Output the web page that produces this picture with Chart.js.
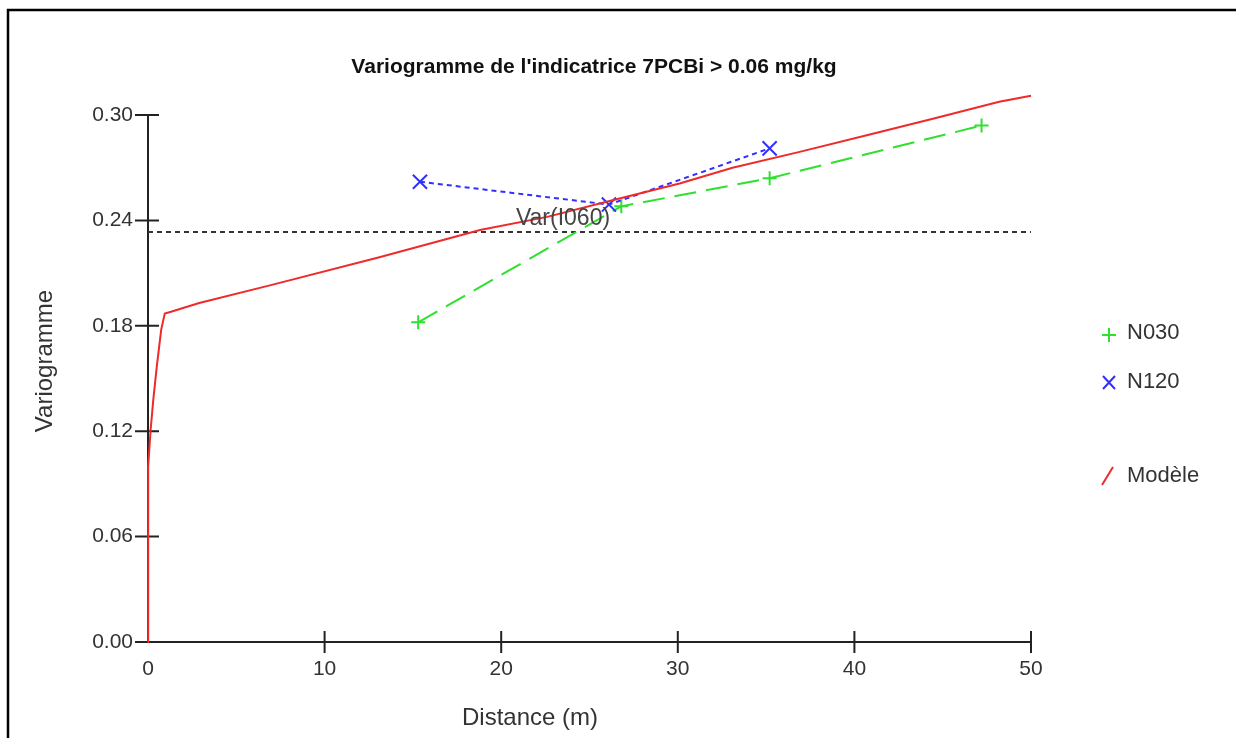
<!DOCTYPE html>
<html>
<head>
<meta charset="utf-8">
<script src="https://cdn.jsdelivr.net/npm/chart.js@4/dist/chart.umd.min.js"></script>
<style>
html,body{margin:0;padding:0;background:#fff;}
#wrap{width:1236px;height:738px;position:relative;}
</style>
</head>
<body>
<div id="wrap"><canvas id="c" width="1236" height="738"></canvas></div>
<script>
// ---- data ----
const chartTitle = "Variogramme de l'indicatrice 7PCBi > 0.06 mg/kg";
const xTitle = "Distance (m)";
const yTitle = "Variogramme";
const xTicks = [0, 10, 20, 30, 40, 50];
const yTicks = [0.00, 0.06, 0.12, 0.18, 0.24, 0.30];

const n030Label = "N030";
const n030Dist  = [15.3, 26.8, 35.2, 47.2];
const n030Gamma = [0.182, 0.248, 0.264, 0.294];

const n120Label = "N120";
const n120Dist  = [15.4, 26.1, 35.2];
const n120Gamma = [0.262, 0.249, 0.281];

const modelLabel = "Modèle";
const modelDist  = [0, 0, 0.02, 0.15, 0.3, 0.5, 0.75, 0.95, 1.3, 2.9, 6.9, 13.1, 18.8, 22.6, 26.3, 30.1, 33.1, 36.9, 40.7, 44.5, 48.2, 50];
const modelGamma = [0, 0.085, 0.100, 0.121, 0.138, 0.157, 0.178, 0.187, 0.188, 0.193, 0.203, 0.219, 0.2345, 0.242, 0.2515, 0.261, 0.270, 0.279, 0.2885, 0.298, 0.3075, 0.311];

const sillLabel = "Var(I060)";
const sillValue = 0.2334;
const sillRange = [0, 50];

// ---- build ----
const zip = (xs, ys) => xs.map((x, i) => ({x: x, y: ys[i]}));
const FONT = "'Liberation Sans', Arial, sans-serif";
const GREEN = '#2fe02f', BLUE = '#3030ff', RED = '#ee2a2a';

const deco = {
  id: 'deco',
  beforeDatasetsDraw(chart) {
    const ctx = chart.ctx, xs = chart.scales.x, ys = chart.scales.y;
    const a = chart.chartArea;
    ctx.save();
    ctx.strokeStyle = '#222';
    ctx.lineWidth = 2;
    ctx.beginPath();
    ctx.moveTo(a.left, a.top); ctx.lineTo(a.left, a.bottom);
    ctx.moveTo(a.left, a.bottom); ctx.lineTo(a.right, a.bottom);
    yTicks.forEach(v => { const p = ys.getPixelForValue(v); ctx.moveTo(a.left - 13, p); ctx.lineTo(a.left + 11, p); });
    xTicks.forEach(v => { if (v === xTicks[0]) return; const p = xs.getPixelForValue(v); ctx.moveTo(p, a.bottom - 11); ctx.lineTo(p, a.bottom + 11); });
    ctx.stroke();
    ctx.restore();
  },
  afterDraw(chart) {
    const ctx = chart.ctx, xs = chart.scales.x, ys = chart.scales.y;
    ctx.save();
    // frame
    ctx.strokeStyle = '#000'; ctx.lineWidth = 2.5;
    ctx.strokeRect(8, 10, 1240, 760);
    // title
    ctx.fillStyle = '#111';
    ctx.font = 'bold 21px ' + FONT;
    ctx.textAlign = 'center'; ctx.textBaseline = 'middle';
    ctx.fillText(chartTitle, 594, 67);
    // axis titles
    ctx.fillStyle = '#333';
    ctx.font = '24px ' + FONT;
    ctx.fillText(xTitle, 530, 718);
    ctx.save();
    ctx.translate(45, 361); ctx.rotate(-Math.PI / 2);
    ctx.fillText(yTitle, 0, 0);
    ctx.restore();
    // sill label
    ctx.fillStyle = '#444';
    ctx.font = '23px ' + FONT;
    ctx.fillText(sillLabel, xs.getPixelForValue(23.5), ys.getPixelForValue(sillValue) - 13);
    // legend
    ctx.textAlign = 'left';
    ctx.fillStyle = '#333';
    ctx.font = '22px ' + FONT;
    const lx = 1109, tx = 1127;
    ctx.lineWidth = 2;
    // N030
    ctx.strokeStyle = GREEN; ctx.beginPath();
    ctx.moveTo(lx - 7, 335); ctx.lineTo(lx + 7, 335); ctx.moveTo(lx, 328); ctx.lineTo(lx, 342); ctx.stroke();
    ctx.fillText(chart.data.datasets[2].label, tx, 333);
    // N120
    ctx.strokeStyle = BLUE; ctx.beginPath();
    ctx.moveTo(lx - 6, 376); ctx.lineTo(lx + 6, 389); ctx.moveTo(lx + 6, 376); ctx.lineTo(lx - 6, 389); ctx.stroke();
    ctx.fillText(chart.data.datasets[1].label, tx, 382);
    // Modele
    ctx.strokeStyle = RED; ctx.beginPath();
    ctx.moveTo(lx - 7, 485); ctx.lineTo(lx + 4, 467); ctx.stroke();
    ctx.fillText(chart.data.datasets[0].label, tx, 476);
    ctx.restore();
  }
};

new Chart(document.getElementById('c'), {
  type: 'scatter',
  data: {
    datasets: [
      { label: modelLabel, data: zip(modelDist, modelGamma), showLine: true, borderColor: RED, borderWidth: 2, pointRadius: 0, tension: 0, clip: false },
      { label: n120Label, data: zip(n120Dist, n120Gamma), showLine: true, borderColor: BLUE, backgroundColor: BLUE, borderWidth: 2, borderDash: [5, 4], pointStyle: 'crossRot', pointRadius: 10, pointBorderWidth: 2, pointBorderColor: BLUE },
      { label: n030Label, data: zip(n030Dist, n030Gamma), showLine: true, borderColor: GREEN, backgroundColor: GREEN, borderWidth: 2, borderDash: [22, 10], pointStyle: 'cross', pointRadius: 7, pointBorderWidth: 2, pointBorderColor: GREEN },
      { label: sillLabel, data: zip(sillRange, [sillValue, sillValue]), showLine: true, borderColor: '#333', borderWidth: 2, borderDash: [5, 4], pointRadius: 0 }
    ]
  },
  options: {
    responsive: false,
    animation: false,
    layout: { padding: { top: 115, right: 205, bottom: 0, left: 0 } },
    plugins: { legend: { display: false }, title: { display: false }, tooltip: { enabled: false } },
    scales: {
      x: {
        type: 'linear', min: xTicks[0], max: xTicks[xTicks.length - 1],
        afterBuildTicks: s => { s.ticks = xTicks.map(v => ({value: v})); },
        afterFit: s => { s.height = 96; },
        grid: { display: false, drawTicks: false },
        border: { display: false },
        ticks: { color: '#333', font: { family: FONT, size: 21 }, padding: 15, maxRotation: 0, autoSkip: false, callback: v => String(v) }
      },
      y: {
        type: 'linear', min: yTicks[0], max: yTicks[yTicks.length - 1],
        afterBuildTicks: s => { s.ticks = yTicks.map(v => ({value: v})); },
        afterFit: s => { s.width = 148; },
        grid: { display: false, drawTicks: false },
        border: { display: false },
        ticks: { color: '#333', font: { family: FONT, size: 21 }, padding: 15, autoSkip: false, callback: v => Number(v).toFixed(2) }
      }
    }
  },
  plugins: [deco]
});
</script>
</body>
</html>
